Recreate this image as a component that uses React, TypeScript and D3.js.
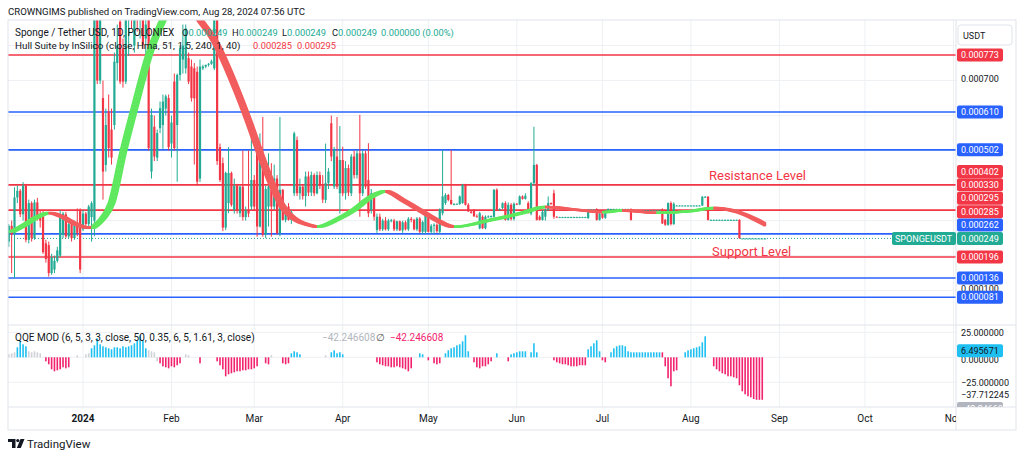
import React, { useEffect } from 'react';
import * as d3 from 'd3';

type Candle = [number, number, number, number]; // open, high, low, close (in 1e-6 USDT)

const dec2023: Candle[] = [
  [240,290,225,285],[285,300,150,260],[260,395,136,366],[366,400,350,385],[385,390,310,318],[318,410,300,400],
  [400,405,238,245],[245,360,235,350],[350,355,240,250],[250,360,245,352],[352,365,300,310],[310,330,280,300],
  [320,330,205,210],[235,245,180,190],[230,240,140,150],[150,205,145,195],[160,200,150,185],[185,225,180,215],
  [200,330,195,316],[260,325,250,320],[318,325,250,255],[255,300,250,290],[290,300,240,250],[250,300,245,290],
  [290,335,255,265],[330,335,150,160],
];
const jan2024: Candle[] = [
  [275,330,270,320],[320,325,280,290],[290,345,280,340],[310,355,240,350],[300,1000,255,920],[920,1000,690,700],
  [700,960,690,900],[650,700,360,440],[459,620,440,573],[612,660,480,507],[560,620,460,480],[573,780,560,754],
  [750,860,700,800],[868,900,690,697],[792,820,680,697],[697,950,690,900],[880,1000,770,950],[950,1000,850,880],
  [800,1000,780,960],[960,1000,840,900],[880,1000,820,960],[887,950,790,802],[820,900,700,860],[887,950,500,507],
  [440,620,420,602],[568,600,470,483],[480,560,470,550],[564,640,550,621],[573,660,505,640],[620,660,600,655],
  [650,660,500,510],
];
const feb2024: Candle[] = [
  [520,600,480,580],[697,720,500,507],[573,720,411,716],[716,800,700,792],[760,860,720,800],[735,860,720,849],
  [764,780,690,697],[740,760,640,650],[735,750,460,649],[725,740,400,411],[420,760,410,740],[735,745,730,740],
  [740,745,735,745],[745,750,740,748],[748,760,745,755],[735,950,730,887],[887,950,459,470],[510,520,410,416],
  [464,480,270,280],[280,440,273,436],[350,510,321,436],[436,440,340,345],[330,420,320,400],[400,405,320,330],
  [321,400,310,397],[397,500,300,310],[310,340,300,330],[330,500,310,320],[340,578,330,416],
];
const mar2024: Candle[] = [
  [416,430,330,340],[500,510,254,283],[283,549,280,502],[473,596,254,260],[260,400,250,390],[340,492,283,397],
  [388,464,254,340],[340,460,330,420],[420,430,260,264],[264,596,255,388],[388,390,300,302],[302,345,295,340],
  [340,350,300,302],[302,330,290,325],[378,554,370,549],[530,540,370,378],[378,420,360,397],[397,400,360,370],
  [370,440,340,426],[426,440,370,380],[380,440,370,430],[430,435,370,378],[378,440,375,430],[430,440,390,400],
  [400,430,350,360],[359,520,350,407],[407,450,390,440],[578,600,470,483],[397,510,390,502],[483,596,390,397],
  [378,570,320,473],
];
const apr2024: Candle[] = [
  [473,511,370,378],[378,470,360,450],[450,460,370,380],[378,490,370,483],[483,500,420,430],[430,500,420,492],
  [492,602,311,378],[378,500,370,492],[492,500,390,397],[416,521,310,321],[330,390,320,378],[378,380,300,311],
  [273,320,265,311],[311,320,270,275],[275,305,270,300],[300,310,272,275],[275,305,270,300],[300,305,295,301],
  [300,305,270,275],[275,300,270,298],[298,300,270,272],[272,300,265,295],[295,300,272,275],[275,310,270,305],
  [305,310,295,302],[302,305,272,275],[275,310,270,306],[306,310,264,268],[268,300,262,296],[268,320,262,316],
];
const may2024: Candle[] = [
  [316,318,266,268],[268,290,262,285],[285,292,262,288],[288,292,265,270],[268,335,262,331],[321,502,315,369],
  [350,378,345,373],[373,376,355,359],[359,502,345,347],[347,350,345,347],[347,349,346,348],[347,372,345,369],
  [350,405,348,402],[402,405,343,345],[345,350,325,326],[326,330,320,322],[331,333,311,312],[312,318,310,311],
  [278,325,275,321],[311,315,276,278],[278,315,275,311],[311,315,308,312],[311,315,308,313],[311,390,308,388],
  [388,392,328,331],[331,335,328,333],[336,352,333,350],[350,355,300,302],[302,352,300,345],[345,350,300,305],
  [305,352,300,348],
];
const jun2024: Candle[] = [
  [348,350,345,346],[346,372,344,369],[369,372,360,362],[362,378,360,371],[350,355,320,322],[320,410,315,407],
  [407,568,400,459],[459,462,300,302],[311,315,300,302],[302,330,300,325],[311,335,300,331],[331,369,328,350],
  [350,352,345,348],[378,388,305,311],[311,312,309,310],[310,311,309,310],[310,311,309,310],[310,311,309,310],
  [310,311,309,310],[310,311,309,310],[310,311,309,310],[310,311,309,310],[310,311,309,310],[310,311,309,310],
  [310,311,309,310],[307,333,305,331],[331,332,330,331],[331,332,330,331],[333,335,300,302],[302,325,300,320],
];
const jul2024: Candle[] = [
  [320,322,305,308],[308,330,305,328],[328,335,325,333],[333,334,332,333],[333,334,332,333],[333,334,332,333],
  [333,334,332,333],[333,334,332,333],[333,334,332,333],[333,334,332,333],[333,335,300,302],[329,330,328,329],
  [329,330,328,329],[329,330,328,329],[329,330,328,329],[329,330,328,329],[329,330,328,329],[329,330,328,329],
  [329,330,328,329],[329,330,328,329],[329,330,328,329],[331,335,290,292],[302,305,285,288],[288,352,285,350],
  [350,355,286,290],[290,352,288,348],[343,344,342,343],[343,344,342,343],[343,344,342,343],[343,344,342,343],
  [343,344,342,343],
];
const aug2024: Candle[] = [
  [343,344,342,343],[343,344,342,343],[343,344,342,343],[343,344,342,343],[343,370,342,368],[368,370,366,368],
  [368,370,300,302],[302,303,301,302],[302,303,301,302],[302,303,301,302],[302,303,301,302],[302,303,301,302],
  [302,303,301,302],[302,303,301,302],[302,303,301,302],[302,303,301,302],[302,303,301,302],[302,304,248,250],
  [249,249,249,249],[249,249,249,249],[249,249,249,249],[249,249,249,249],[249,249,249,249],[249,249,249,249],
  [249,249,249,249],[249,249,249,249],[249,249,249,249],
];

// Hull Suite key points: day offset from 2024-01-01, value (1e-6 USDT)
const hullDays = [-26,-22,-17,-13,-8,-5,-1,2,4,6,9,13,17,22,27,33,40,45,53,57,61,65,69,74,78,81,88,94,100,105,111,117,123,129,142,153,161,173,181,188,200,212,220,229,235,239];
const hullValues = [267,285,310,322,310,296,282,279,290,307,350,493,620,770,873,960,873,815,670,585,493,408,339,300,288,282,303,331,368,384,359,330,301,282,302,322,339,330,324,329,322,327,336,323,302,285];
const hullLegend = [285, 295];

const levelValues = [773, 610, 502, 402, 330, 262, 196, 136, 81];
const levelKinds = ['r','b','b','r','r','b','r','b','b'];

// QQE MOD histogram, one value per day (same days as candles)
const qqeDec = [3,4,5,10,16,13,11,6,5,6,5,4,0,-4,-7,-12,-14,-13,-12,-10,-11,-10,0,0,2,0];
const qqeDecK = 'gggccccggggg.ppppppppp..g.';
const qqeJan = [0,3,4,9,12,19,13,11,10,9,8,10,10,9,11,10,11,12,14,17,22,17,9,7,6,5,-4,-6,-9,-10,-11];
const qqeJanK = '.ggccccccccccccccccccccggggppppp'.slice(0, 31);
const qqeFeb = [-9,-10,-8,-6,0,3,2,0,0,0,-6,0,0,0,0,0,-4,-8,-12,-19,-17,-16,-15,-14,-14,-13,-13,-12,-12];
const qqeFebK = 'pppp.gg...p.....ppppppppppppp';
const qqeMar = [-11,-9,0,0,-6,-7,2,0,0,0,-6,-7,-6,4,6,5,3,0,0,0,0,0,0,0,0,2,0,5,7,4,5];
const qqeMarK = 'pp..ppg...pppcccc........g.cccc';
const qqeApr = [3,0,0,0,0,0,0,0,0,0,0,0,-5,-7,-8,-9,-9,-10,-10,-9,-10,-11,-12,-14,-11,0,0,4,3,0];
const qqeAprK = 'c...........ppppppppppppp..cc.';
const qqeMay = [-3,0,-6,-7,-6,0,4,7,9,10,12,13,16,22,6,0,-5,-10,-11,-9,-9,-7,-4,0,4,0,0,0,-4,3,4];
const qqeMayK = 'p.ppp.ccccccccc.ppppppp.c...pcc';
const qqeJun = [5,6,6,6,0,5,14,5,0,0,0,0,0,-3,-5,-6,-7,-7,-8,-9,-9,-9,-8,-8,-8,8,11,14,17,6];
const qqeJunK = 'cccc.ccc.....ppppppppppppccccc';
const qqeJul = [-3,-5,0,5,9,11,12,12,11,6,5,5,5,5,5,5,5,5,5,5,5,5,-9,-21,-29,-14,-13,-4,0,5,7];
const qqeJulK = 'pp.ccccccccccccccccccpppppp.cc';
const qqeAug = [8,9,10,11,15,21,6,0,-9,-12,-14,-16,-17,-19,-19,-20,-21,-28,-34,-37,-39,-40,-41.7,-42.5,-42.5,-42.5,-42.25];
const qqeAugK = 'ccccccc.ppppppppppppppppppp';
const qqeAxisTicks = [25, 0, -25];
const qqeSecondLine = -37.712245;
const qqeLastValue = 6.495671;
const qqeLineValue = -42.246608;

const DAY = 86400000;
const FIRST = Date.UTC(2023, 11, 6);
const JAN1 = Date.UTC(2024, 0, 1);
const FONT = "Roboto, 'Noto Sans', Arial, sans-serif";
const UP = '#22ab94';
const DOWN = '#f23645';
const LRED = '#f23645';
const LBLUE = '#2962ff';
const TXT = '#131722';
const GRID = '#eef0f4';
const BORDER = '#e0e3eb';

export default function App() {
  useEffect(() => { document.body.style.margin = '0'; }, []);
  const L = 8, R = 956, T = 20, MB = 325, QB = 407, B = 430;
  const x = d3.scaleUtc().domain([new Date(JAN1), new Date(Date.UTC(2024, 9, 1))]).range([83, 83 + 274 * 2.854]);
  const y = d3.scaleLinear().domain([0, 873]).range([325.6, 20]);
  const yq = d3.scaleLinear().domain([-49.7, 32.3]).range([QB, MB]);
  const candles: Candle[] = [...dec2023, ...jan2024, ...feb2024, ...mar2024, ...apr2024, ...may2024, ...jun2024, ...jul2024, ...aug2024];
  const qVals = [...qqeDec, ...qqeJan, ...qqeFeb, ...qqeMar, ...qqeApr, ...qqeMay, ...qqeJun, ...qqeJul, ...qqeAug];
  const qKinds = (qqeDecK + qqeJanK + qqeFebK + qqeMarK + qqeAprK + qqeMayK + qqeJunK + qqeJulK + qqeAugK).split('');
  const cx = (i: number) => x(new Date(FIRST + i * DAY));
  const fmt = (v: number) => (v / 1e6).toFixed(6);
  const last = candles[candles.length - 1];
  const prev = candles[candles.length - 2];

  // hull
  const hullPts: [number, number][] = hullDays.map((d, i) => [x(new Date(JAN1 + d * DAY)), y(hullValues[i])]);
  const hullPath = d3.line().curve(d3.curveMonotoneX)(hullPts) || '';
  const runs: { a: number; b: number; up: boolean }[] = [];
  for (let i = 0; i < hullValues.length - 1; i++) {
    const up = hullValues[i + 1] > hullValues[i];
    if (runs.length && runs[runs.length - 1].up === up) runs[runs.length - 1].b = i + 1;
    else runs.push({ a: i, b: i + 1, up });
  }
  const hullEnd = cx(candles.length - 1) + 1;
  const shift = x(new Date(JAN1 + 2 * DAY)) - x(new Date(JAN1));
  const runX = (idx: number) => x(new Date(JAN1 + (hullDays[idx] + 1) * DAY));

  // months
  const months = d3.utcMonth.range(new Date(Date.UTC(2023, 11, 1)), new Date(Date.UTC(2024, 11, 1)))
    .filter(m => x(m) > L && x(m) < R + 30);

  // price labels (stacked like the platform does)
  const labelsRaw = [
    ...levelValues.map((v, i) => ({ v, fill: levelKinds[i] === 'r' ? LRED : LBLUE })),
    ...hullLegend.map(v => ({ v, fill: LRED })),
    { v: last[3], fill: UP, pin: true },
  ].sort((a, b) => b.v - a.v);
  const ly = labelsRaw.map(l => y(l.v));
  const pinIdx = labelsRaw.findIndex((l: any) => l.pin);
  for (let i = pinIdx - 1; i >= 0; i--) ly[i] = Math.min(ly[i], ly[i + 1] - 13.4);
  for (let i = pinIdx + 1; i < ly.length; i++) ly[i] = Math.max(ly[i], ly[i - 1] + 13.4);
  const ticks = d3.range(100, 900, 100).filter(t => {
    const ty = y(t);
    return ty > 50 && ty < 320 && ly.every(l => Math.abs(l - ty) > 6);
  });

  return (
    <svg width={1024} height={458} style={{ position: 'absolute', left: 0, top: 0, background: '#fff' }} fontFamily={FONT}>
      <defs>
        <clipPath id="main"><rect x={L} y={T} width={R - L} height={MB - T} /></clipPath>
        <clipPath id="qqe"><rect x={L} y={MB} width={R - L} height={QB - MB} /></clipPath>
        <clipPath id="qaxis"><rect x={R} y={MB} width={60} height={QB - MB} /></clipPath>
        <clipPath id="taxis"><rect x={L} y={QB} width={R - L} height={B - QB} /></clipPath>
        {runs.map((r, i) => (
          <clipPath id={`hc${i}`} key={i}>
            <rect x={i === 0 ? 0 : runX(r.a)} y={0} width={Math.max(0, Math.min(i === runs.length - 1 ? hullEnd : runX(r.b), hullEnd) - (i === 0 ? 0 : runX(r.a)))} height={458} />
          </clipPath>
        ))}
      </defs>
      <rect x={0} y={0} width={1024} height={458} fill="#fff" />
      <text x={8} y={15} fontSize={9.6} fill={TXT}>CROWNGIMS published on TradingView.com, Aug 28, 2024 07:56 UTC</text>

      {/* grid */}
      {months.filter(m => x(m) < R).map((m, i) => (
        <line key={i} x1={x(m)} x2={x(m)} y1={T} y2={QB} stroke={GRID} />
      ))}
      {d3.range(100, 900, 100).map(t => (
        <line key={t} x1={L} x2={R} y1={y(t)} y2={y(t)} stroke={GRID} />
      ))}
      {qqeAxisTicks.map(t => (
        <line key={t} x1={L} x2={R} y1={yq(t)} y2={yq(t)} stroke={GRID} />
      ))}

      {/* main pane */}
      <g clipPath="url(#main)">
        {levelValues.map((v, i) => (
          <line key={i} x1={L} x2={R} y1={y(v)} y2={y(v)} stroke={levelKinds[i] === 'r' ? LRED : LBLUE} strokeWidth={1.6} />
        ))}
        <line x1={L} x2={R} y1={y(last[3])} y2={y(last[3])} stroke={UP} strokeWidth={1} strokeDasharray="1,2" />
        {candles.map((c, i) => {
          const [o, h, l, cl] = c;
          const col = cl >= o ? UP : DOWN;
          const X = cx(i);
          const top = y(Math.max(o, cl));
          const bot = y(Math.min(o, cl));
          return (
            <g key={i}>
              <line x1={X} x2={X} y1={y(h)} y2={y(l)} stroke={col} strokeWidth={1} />
              <rect x={X - 1.1} y={top} width={2.2} height={Math.max(1, bot - top)} fill={col} />
            </g>
          );
        })}
        {runs.map((r, i) => (
          <g key={i} clipPath={`url(#hc${i})`}>
            {[0, 1, 2, 3].map(k => (
              <path key={k} d={hullPath} transform={`translate(${(k * shift) / 3},0)`} fill="none"
                stroke={r.up ? '#5ee85e' : '#f25c5c'} strokeWidth={2.3} />
            ))}
          </g>
        ))}
      </g>
      <text x={709} y={180} fontSize={13} fill={LRED}>Resistance Level</text>
      <text x={712} y={256} fontSize={13} fill={LRED}>Support Level</text>

      {/* legends */}
      <g fontSize={10}>
        <text x={15} y={36} fill={TXT}>Sponge / Tether USD, 1D, POLONIEX</text>
        {[['O', last[0]], ['H', last[1]], ['L', last[2]], ['C', last[3]]].map(([k, v], i) => (
          <text key={i} x={182 + i * 50} y={36} fill={TXT} fontSize={9.3}>{k as string}<tspan fill={UP}>{fmt(v as number)}</tspan></text>
        ))}
        <text x={381} y={36} fill={UP} fontSize={9.3}>{fmt(last[3] - prev[3])} ({((last[3] - prev[3]) / prev[3] * 100).toFixed(2)}%)</text>
        <text x={15} y={49} fill={TXT} fontSize={9.8}>Hull Suite by InSilico (close, Hma, 51, 1.5, 240, 1, 40)</text>
        <text x={253} y={49} fill={LRED} fontSize={9.3}>{fmt(hullLegend[0])}</text>
        <text x={297} y={49} fill={LRED} fontSize={9.3}>{fmt(hullLegend[1])}</text>
      </g>

      {/* qqe pane */}
      <g clipPath="url(#qqe)">
        {qVals.map((v, i) => {
          const k = qKinds[i];
          if (k === '.' || k === undefined || v === 0) return null;
          const col = k === 'c' ? '#1ec0f2' : k === 'p' ? '#f2226e' : '#cfd1d6';
          const y0 = yq(0), y1 = yq(v);
          return <rect key={i} x={cx(i) - 0.8} y={Math.min(y0, y1)} width={1.6} height={Math.abs(y1 - y0)} fill={col} />;
        })}
      </g>
      <g fontSize={10}>
        <text x={15} y={340.5} fill={TXT}>QQE MOD (6, 5, 3, 3, close, 50, 0.35, 6, 5, 1.61, 3, close)</text>
        <text x={322} y={340.5} fill="#b2b5be">{'\u2212' + Math.abs(qqeLineValue).toFixed(6)}</text>
        <text x={376} y={340.5} fill="#555">∅</text>
        <text x={390} y={340.5} fill="#f2226e">{'\u2212' + Math.abs(qqeLineValue).toFixed(6)}</text>
      </g>

      {/* frame & separators */}
      <line x1={L} x2={1016} y1={MB} y2={MB} stroke={BORDER} />
      <line x1={L} x2={1016} y1={QB} y2={QB} stroke={BORDER} />
      <line x1={R} x2={R} y1={T} y2={B} stroke={BORDER} />
      <rect x={L} y={T} width={1016 - L} height={B - T} fill="none" stroke={BORDER} />

      {/* price axis */}
      <rect x={958} y={25} width={54} height={20} rx={3} fill="#fff" stroke={BORDER} />
      <text x={963} y={38.5} fontSize={9} fill={TXT}>USDT</text>
      {ticks.map(t => (
        <text key={t} x={961} y={y(t) + 1.5} fontSize={9} fill={TXT}>{fmt(t)}</text>
      ))}
      {labelsRaw.map((l: any, i) => (
        <g key={i}>
          {l.pin && (
            <g>
              <rect x={892} y={ly[i] - 6.5} width={64} height={13} rx={2} fill={UP} />
              <text x={895} y={ly[i] + 3.2} fontSize={9} fill="#fff">SPONGEUSDT</text>
            </g>
          )}
          <rect x={957} y={ly[i] - 6.5} width={46} height={13} rx={2} fill={l.fill} />
          <text x={961} y={ly[i] + 3.2} fontSize={9} fill="#fff">{fmt(l.v)}</text>
        </g>
      ))}

      {/* qqe axis */}
      <g clipPath="url(#qaxis)" fontSize={9}>
        {qqeAxisTicks.map(t => (
          <text key={t} x={961} y={yq(t) + (t === 0 ? 5.5 : 3.2)} fill={TXT}>{(t < 0 ? '\u2212' : '') + Math.abs(t).toFixed(6)}</text>
        ))}
        <rect x={957} y={yq(qqeLastValue) - 6.5} width={46} height={13} rx={2} fill="#1ec0f2" />
        <text x={961} y={yq(qqeLastValue) + 3.2} fill={TXT}>{qqeLastValue.toFixed(6)}</text>
        <text x={961} y={yq(qqeSecondLine) + 3.2} fill={TXT}>{'\u2212' + Math.abs(qqeSecondLine).toFixed(6)}</text>
        <rect x={957} y={yq(qqeSecondLine) + 13.4 - 6.5} width={46} height={13} rx={2} fill="#b2b5be" />
        <text x={960} y={yq(qqeSecondLine) + 13.4 + 3.2} fill="#fff">{'\u2212' + Math.abs(qqeLineValue).toFixed(6)}</text>
      </g>

      {/* time axis */}
      <g clipPath="url(#taxis)" fontSize={10} fill={TXT}>
        {months.map((m, i) => (
          <text key={i} x={x(m)} y={422} textAnchor="middle" fontWeight={m.getUTCMonth() === 0 ? 'bold' : 'normal'}>
            {m.getUTCMonth() === 0 ? d3.utcFormat('%Y')(m) : d3.utcFormat('%b')(m)}
          </text>
        ))}
      </g>

      {/* logo */}
      <g fill={TXT}>
        <path d="M8,439 H15.5 V448 H12 V442 H8 Z" />
        <circle cx={17.8} cy={440.6} r={1.6} />
        <path d="M20.5,439 H24.5 L20.8,448 H16.8 Z" />
      </g>
      <text x={27} y={447.5} fontSize={11.5} fill={TXT}>TradingView</text>
    </svg>
  );
}
